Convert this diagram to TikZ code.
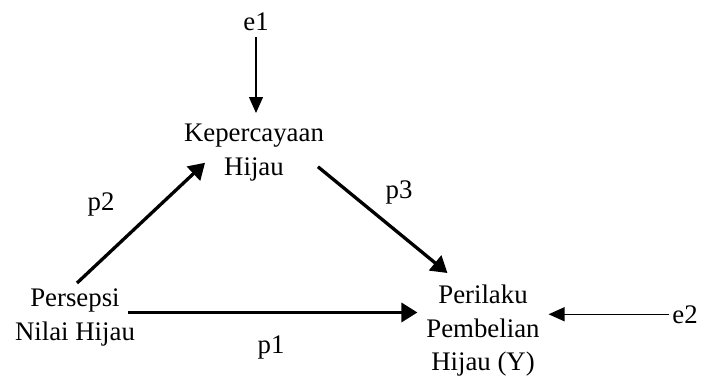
\documentclass[tikz,border=0pt]{standalone}
\usepackage{fontspec}
\setmainfont{Liberation Serif}
\usetikzlibrary{arrows.meta}
\begin{document}
\begin{tikzpicture}[x=1pt,y=-1pt,
  lbl/.style={inner sep=0pt, outer sep=0pt, font=\fontsize{26.8}{33.5}\selectfont, align=center},
  thk/.style={line width=3.3pt, -{Triangle[length=16pt,width=19pt]}},
  thn/.style={line width=1.3pt, -{Triangle[length=16pt,width=14pt]}}]
\useasboundingbox (0,0) rectangle (701,376);
% variables
\node[lbl, anchor=base] (e1) at (256,30) {e1};
\node[lbl, anchor=north] (trust) at (254,124) {Kepercayaan\\Hijau};
\node[lbl, anchor=north] (ppnh) at (75,289) {Persepsi\\Nilai Hijau};
\node[lbl, anchor=north] (plb) at (483,285) {Perilaku\\Pembelian\\Hijau (Y)};
\node[lbl, anchor=base] (e2) at (685,323) {e2};
% path labels
\node[lbl, anchor=base] (p1) at (271,353) {p1};
\node[lbl, anchor=base] (p2) at (101,210) {p2};
\node[lbl, anchor=base] (p3) at (399,198) {p3};
% connectors
\draw[thn, shorten <=7pt, shorten >=11pt] (e1.south) -- (e1.south |- trust.north);
\draw[thn, shorten <=3pt, shorten >=9pt] (e2.west) -- (e2.west -| plb.east);
\draw[thk] ([xshift=2pt,yshift=6pt]ppnh.north) -- ([xshift=21pt,yshift=18pt]trust.south west);
\draw[thk] ([xshift=-6pt,yshift=14pt]trust.south east) -- ([xshift=21pt,yshift=12pt]plb.north west);
\draw[thk, shorten >=2pt] ([xshift=-7pt,yshift=5pt]ppnh.east) -- ([xshift=-7pt,yshift=5pt]ppnh.east -| plb.west);
\end{tikzpicture}
\end{document}
